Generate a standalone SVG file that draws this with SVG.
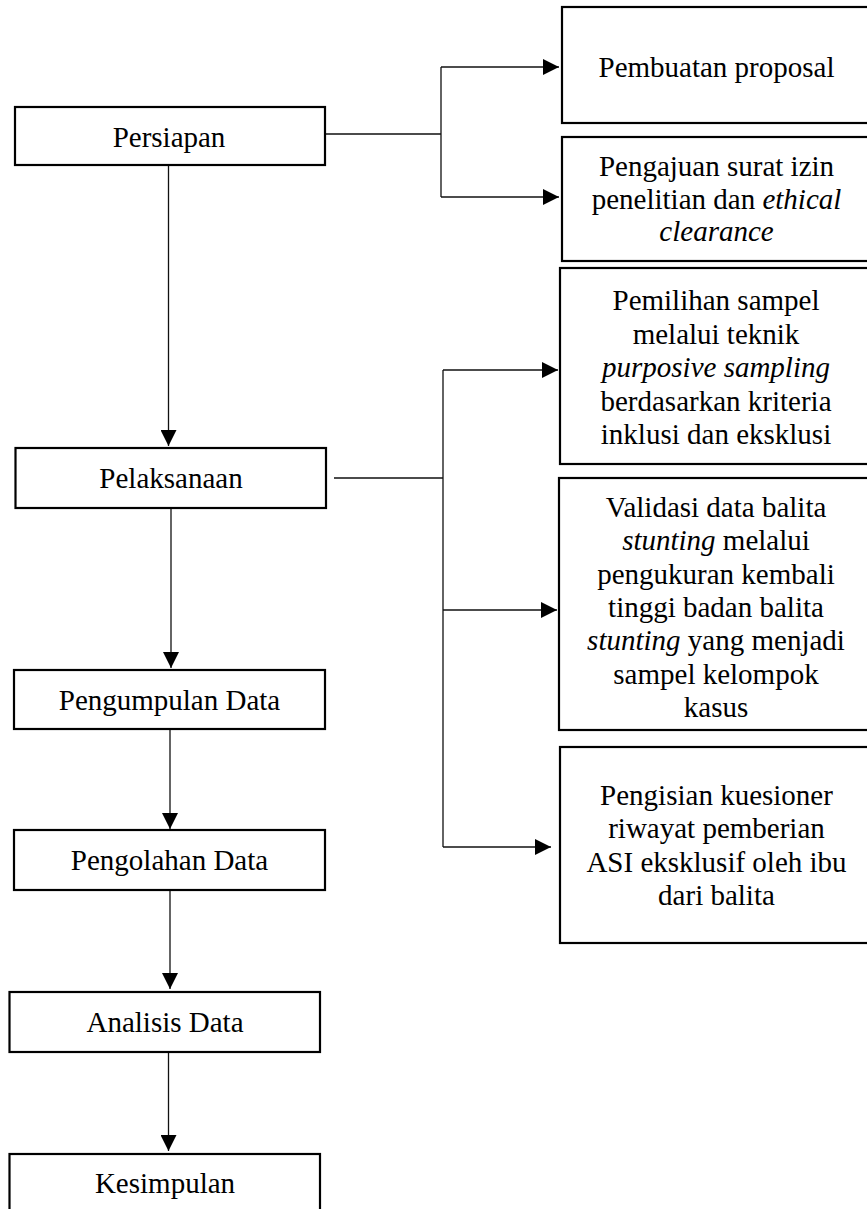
<svg xmlns="http://www.w3.org/2000/svg" width="867" height="1209" viewBox="0 0 867 1209">
<style>
.box{fill:#fff;stroke:#000;stroke-width:2.2}
.t{font-family:"Liberation Serif","Times New Roman",serif;font-size:29px;fill:#000;text-anchor:middle}
.i{font-style:italic}
.c{fill:none;stroke:#111;stroke-width:1.3}
</style>
<defs>
<marker id="ah" markerUnits="userSpaceOnUse" markerWidth="16" markerHeight="16" refX="16" refY="8" orient="auto">
<path d="M0,0 L16,8 L0,16 z" fill="#000"/>
</marker>
</defs>
<rect width="867" height="1209" fill="#fff"/>
<g id="connectors">
<path class="c" d="M325,134 H441 M441,67 V197"/>
<path class="c" d="M441,67 H559" marker-end="url(#ah)"/>
<path class="c" d="M441,197 H559" marker-end="url(#ah)"/>
<path class="c" d="M168.5,165 V446" marker-end="url(#ah)"/>
<path class="c" d="M334,478 H443 M443,370 V847"/>
<path class="c" d="M443,370 H558" marker-end="url(#ah)"/>
<path class="c" d="M443,610 H557" marker-end="url(#ah)"/>
<path class="c" d="M443,847 H551" marker-end="url(#ah)"/>
<path class="c" d="M171,508 V668" marker-end="url(#ah)"/>
<path class="c" d="M170,729 V829" marker-end="url(#ah)"/>
<path class="c" d="M170,890 V989" marker-end="url(#ah)"/>
<path class="c" d="M168.5,1052 V1151" marker-end="url(#ah)"/>
</g>
<g id="persiapan">
<rect class="box" x="15" y="107" width="310" height="58"/>
<text class="t" x="169" y="147">Persiapan</text>
</g>
<g id="pelaksanaan">
<rect class="box" x="15.5" y="448" width="310.5" height="60"/>
<text class="t" x="171" y="488">Pelaksanaan</text>
</g>
<g id="pengumpulan">
<rect class="box" x="14" y="670" width="311" height="59"/>
<text class="t" x="169.5" y="710">Pengumpulan Data</text>
</g>
<g id="pengolahan">
<rect class="box" x="14" y="830" width="311" height="60"/>
<text class="t" x="169.5" y="870">Pengolahan Data</text>
</g>
<g id="analisis">
<rect class="box" x="9.5" y="992" width="310.5" height="60"/>
<text class="t" x="165" y="1032">Analisis Data</text>
</g>
<g id="kesimpulan">
<rect class="box" x="9.5" y="1154" width="310.5" height="80"/>
<text class="t" x="165" y="1193">Kesimpulan</text>
</g>
<g id="proposal">
<rect class="box" x="562" y="7" width="330" height="116"/>
<text class="t" x="716.5" y="77">Pembuatan proposal</text>
</g>
<g id="surat-izin">
<rect class="box" x="562" y="137" width="330" height="124"/>
<text class="t" x="716.5" y="175.5">Pengajuan surat izin</text>
<text class="t" x="716.5" y="208.5">penelitian dan <tspan class="i">ethical</tspan></text>
<text class="t" x="716.5" y="241"><tspan class="i">clearance</tspan></text>
</g>
<g id="pemilihan-sampel">
<rect class="box" x="560" y="268" width="330" height="196"/>
<text class="t" x="716" y="310">Pemilihan sampel</text>
<text class="t" x="716" y="343.5">melalui teknik</text>
<text class="t i" x="716" y="377">purposive sampling</text>
<text class="t" x="716" y="410.5">berdasarkan kriteria</text>
<text class="t" x="716" y="444">inklusi dan eksklusi</text>
</g>
<g id="validasi">
<rect class="box" x="559" y="478" width="330" height="252"/>
<text class="t" x="716" y="517">Validasi data balita</text>
<text class="t" x="716" y="550"><tspan class="i">stunting</tspan> melalui</text>
<text class="t" x="716" y="583.5">pengukuran kembali</text>
<text class="t" x="716" y="617">tinggi badan balita</text>
<text class="t" x="716" y="650"><tspan class="i">stunting</tspan> yang menjadi</text>
<text class="t" x="716" y="683.5">sampel kelompok</text>
<text class="t" x="716" y="717">kasus</text>
</g>
<g id="pengisian">
<rect class="box" x="560" y="747" width="330" height="196"/>
<text class="t" x="716.5" y="805">Pengisian kuesioner</text>
<text class="t" x="716.5" y="838">riwayat pemberian</text>
<text class="t" x="716.5" y="871.5">ASI eksklusif oleh ibu</text>
<text class="t" x="716.5" y="905">dari balita</text>
</g>
</svg>
